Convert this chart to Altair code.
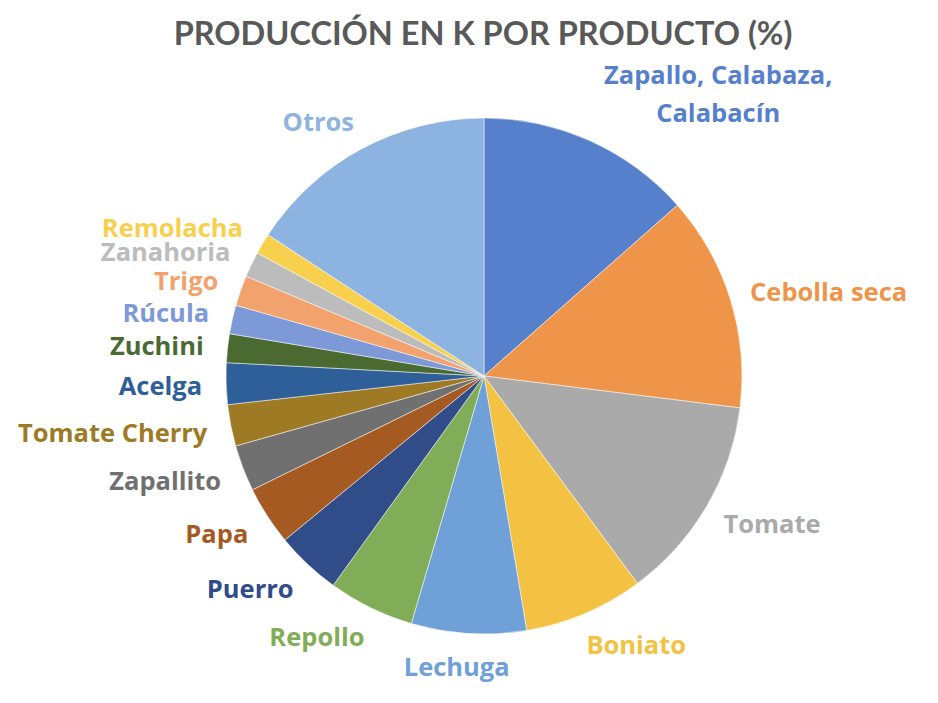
import altair as alt
import pandas as pd

CATEGORIES = [
    "Zapallo, Calabaza,\nCalabacín", "Cebolla seca", "Tomate", "Boniato", "Lechuga",
    "Repollo", "Puerro", "Papa", "Zapallito", "Tomate Cherry", "Acelga",
    "Zuchini", "Rúcula", "Trigo", "Zanahoria", "Remolacha", "Otros",
]
VALUES = [13.5, 13.5, 12.9, 7.5, 7.2, 5.4, 4.1, 3.7, 2.9, 2.6, 2.6,
          1.8, 1.8, 1.9, 1.6, 1.3, 15.8]
COLORS = [
    "#5680CC", "#EE9549", "#AAAAAA", "#F4C242", "#6FA0D8", "#82AD58",
    "#304C89", "#A55A22", "#707070", "#9E7A25", "#2F5F98", "#4A6A32",
    "#7D99D7", "#F1A26D", "#BCBCBC", "#F8D04E", "#8DB3E0",
]
TITLE = "PRODUCCIÓN EN K POR PRODUCTO (%)"

df = pd.DataFrame({"cat": CATEGORIES, "value": VALUES, "idx": list(range(len(CATEGORIES)))})

TITLE_FONT = "Lato"
FONT = "Open Sans"
CX, CY, R = 476, 308, 258
LR = 290

color = alt.Color("cat:N", scale=alt.Scale(domain=CATEGORIES, range=COLORS), legend=None)
theta_scale = alt.Scale(domain=[0, 1], range=[0, 6.283185307179586])

base = alt.Chart(df).transform_joinaggregate(
    total="sum(value)"
).transform_window(
    cum="sum(value)", sort=[alt.SortField("idx")], frame=[None, 0]
).transform_calculate(
    start="(datum.cum - datum.value) / datum.total",
    end="datum.cum / datum.total",
    mid="(datum.cum - datum.value / 2) / datum.total",
)

arcs = base.mark_arc(outerRadius=R, stroke="white", strokeWidth=0.5).encode(
    theta=alt.Theta("start:Q", scale=theta_scale),
    theta2="end:Q",
    color=color,
    x=alt.value(CX),
    y=alt.value(CY),
)

def label_layer(cond, align, dx=0, dy=0):
    return base.transform_filter(cond).mark_text(
        font=FONT, fontSize=25.5, fontWeight="bold", align=align, baseline="middle",
        radius=LR, dx=dx, dy=dy, lineBreak="\n", lineHeight=38,
    ).encode(
        theta=alt.Theta("mid:Q", scale=theta_scale),
        text="cat:N",
        color=color,
        x=alt.value(CX),
        y=alt.value(CY),
    )

first = label_layer("datum.mid < 0.1", "center", dx=115, dy=-36)
right = label_layer("datum.mid >= 0.1 && datum.mid < 0.45", "left", dx=-11, dy=3)
center = label_layer("datum.mid >= 0.45 && datum.mid < 0.55", "center", dx=-10, dy=3)
left = label_layer("datum.mid >= 0.55", "right", dx=8, dy=2)

chart = alt.layer(arcs, first, right, center, left).properties(
    width=922,
    height=627,
    background="white",
    autosize=alt.AutoSizeParams(type="none"),
    padding={"left": 0, "top": 60, "right": 0, "bottom": 0},
    title=alt.TitleParams(TITLE, font=TITLE_FONT, fontSize=32.5, fontWeight="bold",
                          color="#595959", anchor="middle", offset=12, dx=14),
).configure_view(strokeWidth=0, stroke="transparent")

chart.save("out.html", embed_options={"renderer": "svg", "actions": False})
